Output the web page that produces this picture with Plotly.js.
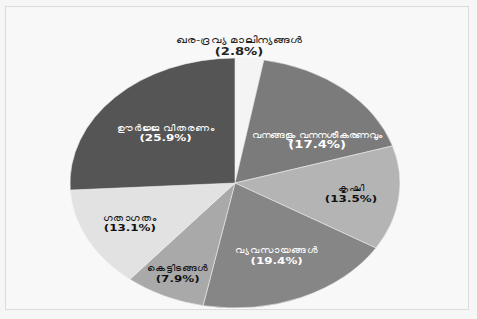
<!DOCTYPE html>
<html>
<head>
<meta charset="utf-8">
<script src="https://cdn.plot.ly/plotly-3.0.1.min.js"></script>
<style>
  html, body { margin: 0; padding: 0; background: #f6f6f6; overflow: hidden; }
  #frame { position: absolute; left: 5px; top: 6px; width: 462px; height: 302px; border: 1px solid #dcdcdc; background: #f8f8f8; }
  #chart { position: absolute; left: 0; top: 0; width: 477px; height: 319px;
           transform: scaleX(1.32); transform-origin: 235px 0; }
</style>
</head>
<body>
<div id="frame"></div>
<div id="chart"></div>
<script>
const categories = [
  "ഖര-ദ്രവ്യ മാലിന്യങ്ങൾ",
  "വനങ്ങളും വനനശീകരണവും",
  "കൃഷി",
  "വ്യവസായങ്ങൾ",
  "കെട്ടിടങ്ങൾ",
  "ഗതാഗതം",
  "ഊർജ്ജ വിതരണം"
];
const shares = [2.8, 17.4, 13.5, 19.4, 7.9, 13.1, 25.9];
const sliceColors = ["#f4f4f4", "#7b7b7b", "#b4b4b4", "#868686", "#a9a9a9", "#e2e2e2", "#555555"];
const textColors = ["#222222", "#ffffff", "#111111", "#ffffff", "#111111", "#111111", "#ffffff"];
const textPositions = ["none", "none", "inside", "inside", "inside", "inside", "inside"];

const fmt = (c, v) => c + "<br><b><span style=\"font-size:10px\">(" + v.toFixed(1) + "%)</span></b>";
const labelText = categories.map((c, i) => fmt(c, shares[i]));
const FONT = "DejaVu Sans, Noto Sans, sans-serif";

const trace = {
  type: "pie",
  labels: categories,
  values: shares,
  text: labelText,
  textinfo: "text",
  hoverinfo: "label+percent",
  sort: false,
  direction: "clockwise",
  rotation: 0,
  textposition: textPositions,
  insidetextorientation: "horizontal",
  textfont: { family: FONT, size: 9, color: textColors },
  marker: { colors: sliceColors, line: { color: "#eeeeee", width: 0.5 } },
  domain: { x: [0.2306, 0.7547], y: [0.0345, 0.818] },
  showlegend: false
};

const layout = {
  width: 477,
  height: 319,
  margin: { l: 0, r: 0, t: 0, b: 0 },
  paper_bgcolor: "rgba(0,0,0,0)",
  plot_bgcolor: "rgba(0,0,0,0)",
  showlegend: false,
  uniformtext: { minsize: 8, mode: "show" },
  annotations: [
    {
      xref: "paper", yref: "paper", x: 0.5, y: 0.815,
      xanchor: "center", yanchor: "bottom", showarrow: false,
      text: labelText[0],
      font: { family: FONT, size: 9, color: textColors[0] }
    },
    {
      xref: "paper", yref: "paper", x: 0.624, y: 0.56,
      xanchor: "center", yanchor: "middle", showarrow: false,
      text: labelText[1],
      font: { family: FONT, size: 8, color: textColors[1] }
    }
  ]
};

Plotly.newPlot("chart", [trace], layout, { staticPlot: true, displayModeBar: false });
</script>
</body>
</html>
